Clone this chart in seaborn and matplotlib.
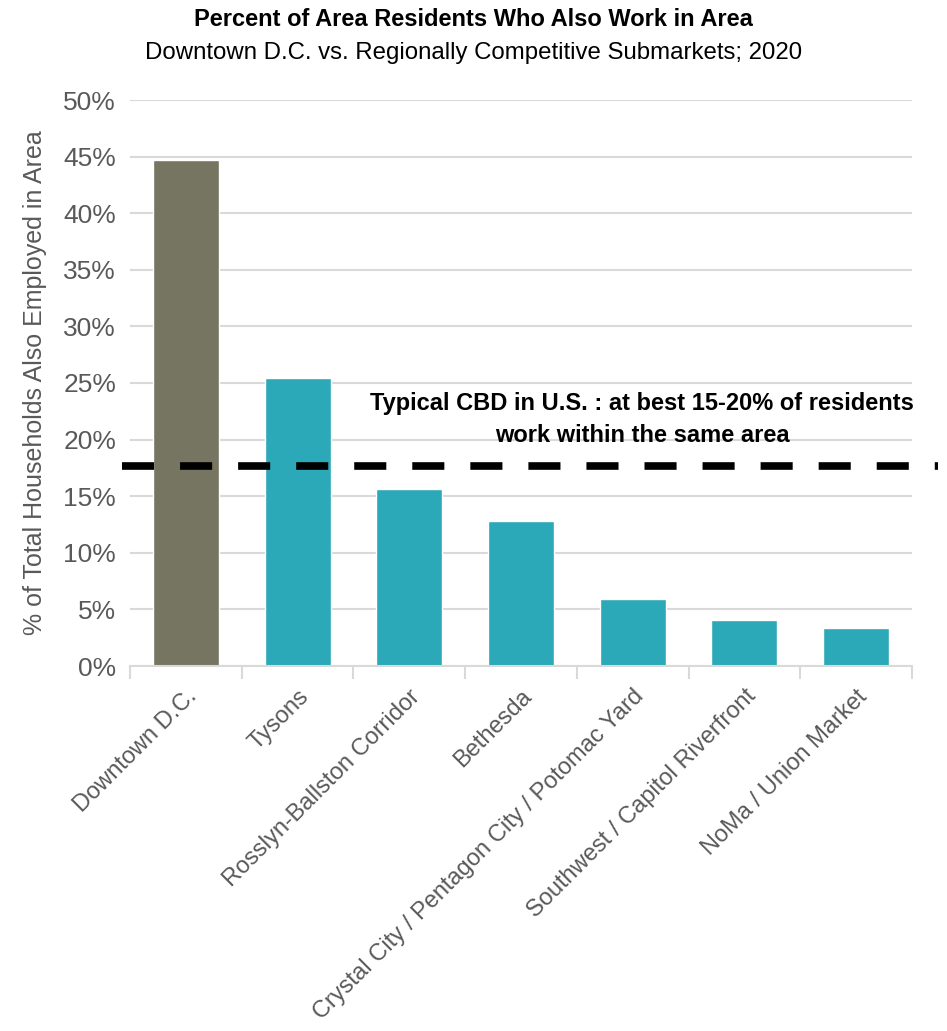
import matplotlib
matplotlib.use("Agg")
import matplotlib.pyplot as plt
import seaborn as sns
import pandas as pd
import numpy as np
from matplotlib import font_manager

categories = ["Downtown D.C.", "Tysons", "Rosslyn-Ballston Corridor", "Bethesda",
              "Crystal City / Pentagon City / Potomac Yard",
              "Southwest / Capitol Riverfront", "NoMa / Union Market"]
values = [44.7, 25.4, 15.6, 12.8, 5.9, 4.1, 3.4]
typical_cbd = 17.7
yticks = [0, 5, 10, 15, 20, 25, 30, 35, 40, 45, 50]

sns.set_theme(style="white")
names = {f.name for f in font_manager.fontManager.ttflist}
narrow = "Liberation Sans Narrow" if "Liberation Sans Narrow" in names else "Liberation Sans"
plt.rcParams['font.family'] = [narrow, 'DejaVu Sans']

fig = plt.figure(figsize=(9.47, 10.31), dpi=100)
ax = fig.add_axes([130/947, 1 - 666/1031, (912-130)/947, (666-100)/1031])

df = pd.DataFrame({"cat": categories, "val": values})
colors = ["#767561"] + ["#2BA9B8"] * (len(categories) - 1)
sns.barplot(data=df, x="cat", y="val", hue="cat", palette=colors, legend=False,
            width=0.59, ax=ax, saturation=1, zorder=2)

ax.set_ylim(0, 50)
ax.set_xlim(-0.5, len(categories) - 0.5)
ax.set_yticks(yticks)
ax.set_yticklabels([f"{t}%" for t in yticks], fontsize=19, color="#595959",
                   family=["Liberation Sans", "DejaVu Sans"])
ax.grid(axis="y", color="#d9d9d9", linewidth=1.5, zorder=0)
ax.set_axisbelow(True)
for s in ["top", "right", "left"]:
    ax.spines[s].set_visible(False)
ax.spines["bottom"].set_color("#d9d9d9")
ax.spines["bottom"].set_linewidth(1.5)

ax.set_xticks(np.arange(len(categories)))
ax.set_xticklabels(categories, rotation=45, ha="right", rotation_mode="anchor",
                   fontsize=17, color="#595959")
ax.tick_params(axis="x", length=0, pad=14)
ax.tick_params(axis="y", length=0, pad=10)
ax.set_xticks(np.arange(-0.5, len(categories)), minor=True)
ax.tick_params(axis="x", which="minor", length=9, width=1.5, color="#d9d9d9", direction="out")
ax.xaxis.set_tick_params(which="minor", bottom=True)

ax.set_xlabel("")
ax.set_ylabel("% of Total Households Also Employed in Area", fontsize=18,
              color="#595959", labelpad=12)

ax.plot([-0.01, 1.033], [typical_cbd, typical_cbd], transform=ax.get_yaxis_transform(),
        color="black", linewidth=5.5, dashes=(4.2, 3.4), clip_on=False, zorder=4)
ax.text(0.655, 21.75, "Typical CBD in U.S. : at best 15-20% of residents\nwork within the same area",
        transform=ax.get_yaxis_transform(), ha="center", va="center",
        fontsize=17, fontweight="bold", color="black", linespacing=1.5, zorder=5)

fig.text(0.5, 1 - 20/1031, "Percent of Area Residents Who Also Work in Area",
         ha="center", va="center", fontsize=17, fontweight="bold", color="black")
fig.text(0.5, 1 - 53/1031, "Downtown D.C. vs. Regionally Competitive Submarkets; 2020",
         ha="center", va="center", fontsize=17.3, color="black")

fig.savefig("out.png", dpi=100)
